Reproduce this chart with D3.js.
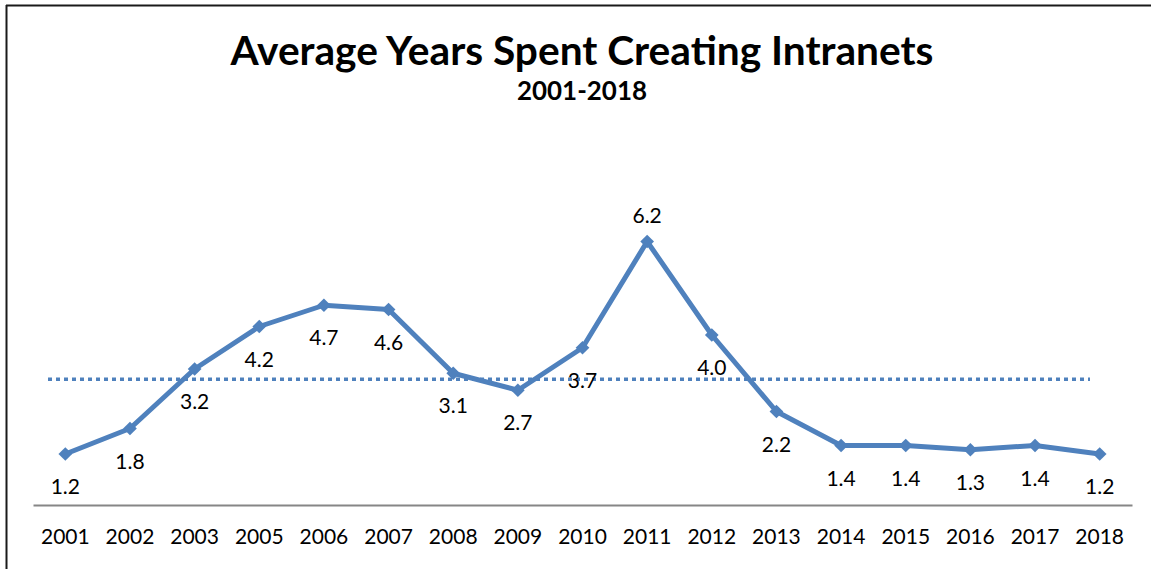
<!DOCTYPE html>
<html>
<head>
<meta charset="utf-8">
<script src="https://cdn.jsdelivr.net/npm/d3@7/dist/d3.min.js"></script>
<style>
  html, body { margin: 0; padding: 0; background: #fff; }
  svg { display: block; }
</style>
</head>
<body>
<svg id="chart" width="1151" height="569"></svg>
<script>
// ---- data ----
const years = ["2001","2002","2003","2005","2006","2007","2008","2009","2010","2011","2012","2013","2014","2015","2016","2017","2018"];
const values = [1.2, 1.8, 3.2, 4.2, 4.7, 4.6, 3.1, 2.7, 3.7, 6.2, 4.0, 2.2, 1.4, 1.4, 1.3, 1.4, 1.2];
const averageValue = 2.96;
const titleText = "Average Years Spent Creating Intranets";
const subtitleText = "2001-2018";

// ---- layout ----
const W = 1151, H = 569;
const svg = d3.select("#chart");
const font = "Lato, 'Open Sans', sans-serif";
const blue = "#4F81BD";

// frame (top and left edges visible)
svg.append("line").attr("x1", 6).attr("x2", W).attr("y1", 5.5).attr("y2", 5.5)
  .attr("stroke", "#1a1a1a").attr("stroke-width", 2);
svg.append("line").attr("x1", 6.5).attr("x2", 6.5).attr("y1", 5).attr("y2", H)
  .attr("stroke", "#1a1a1a").attr("stroke-width", 2);

const x = d3.scaleBand().domain(years).range([33, 1132]).padding(0);
const y = d3.scaleLinear().domain([0, 7]).range([505, 207.5]);

// fit text to a target width
function fitText(sel, targetW) {
  const w = sel.node().getComputedTextLength();
  const fs = parseFloat(sel.attr("font-size"));
  sel.attr("font-size", fs * targetW / w);
}

// title
const t = svg.append("text").attr("x", 582).attr("y", 65).attr("text-anchor", "middle")
  .attr("font-family", font).attr("font-weight", "bold").attr("font-size", 36)
  .attr("fill", "#000").text(titleText);
fitText(t, 703);
const st = svg.append("text").attr("x", 582).attr("y", 100).attr("text-anchor", "middle")
  .attr("font-family", font).attr("font-weight", "bold").attr("font-size", 20)
  .attr("fill", "#000").text(subtitleText);
fitText(st, 130);

// x axis
const xAxis = d3.axisBottom(x).tickSize(0).tickPadding(0);
const gx = svg.append("g").attr("transform", `translate(0,${y(0)})`).call(xAxis);
gx.select(".domain").attr("stroke", "#868686").attr("stroke-width", 2);
gx.selectAll(".tick text")
  .attr("font-family", font).attr("font-size", 21).attr("fill", "#000")
  .attr("dy", 0).attr("y", 39);

// average dotted line
svg.append("line")
  .attr("x1", 48).attr("x2", 1090)
  .attr("y1", y(averageValue)).attr("y2", y(averageValue))
  .attr("stroke", blue).attr("stroke-width", 3.5)
  .attr("stroke-dasharray", "4,4");

// series line
const cx = (d, i) => x(years[i]) + x.bandwidth() / 2;
const line = d3.line().x((d, i) => cx(d, i)).y(d => y(d));
svg.append("path").datum(values)
  .attr("d", line).attr("fill", "none")
  .attr("stroke", blue).attr("stroke-width", 5).attr("stroke-linejoin", "round");

// diamond markers
svg.selectAll(".mk").data(values).enter().append("path")
  .attr("class", "mk")
  .attr("d", d3.symbol().type(d3.symbolDiamond2).size(120))
  .attr("transform", (d, i) => `translate(${cx(d, i)},${y(d)})`)
  .attr("fill", blue);

// data labels
const maxV = d3.max(values);
svg.selectAll(".lbl").data(values).enter().append("text")
  .attr("class", "lbl")
  .attr("x", (d, i) => cx(d, i))
  .attr("y", d => d === maxV ? y(d) - 19 : y(d) + 40)
  .attr("text-anchor", "middle")
  .attr("font-family", font).attr("font-size", 21).attr("fill", "#000")
  .text(d => d.toFixed(1));
</script>
</body>
</html>
